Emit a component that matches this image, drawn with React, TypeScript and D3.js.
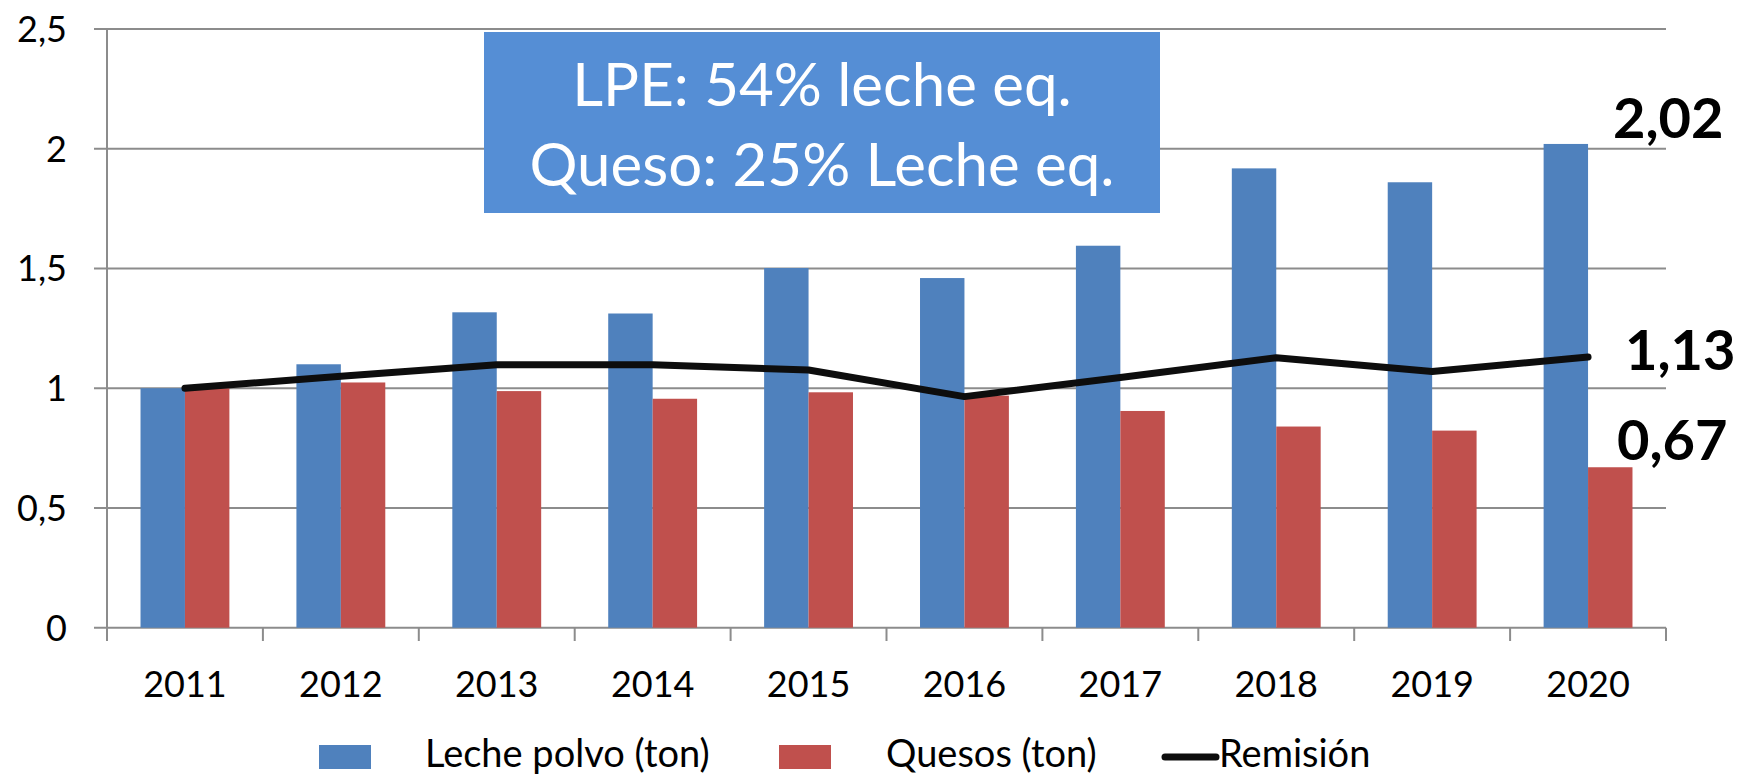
import React from "react";
import * as d3 from "d3";

const years = ["2011", "2012", "2013", "2014", "2015", "2016", "2017", "2018", "2019", "2020"];
const lechePolvo = [1.0, 1.1, 1.317, 1.312, 1.502, 1.46, 1.595, 1.918, 1.86, 2.02];
const quesos = [1.0, 1.024, 0.988, 0.956, 0.983, 0.969, 0.905, 0.84, 0.823, 0.67];
const remision = [1.0, 1.05, 1.098, 1.098, 1.076, 0.965, 1.045, 1.127, 1.07, 1.13];
const yTicks = [0, 0.5, 1, 1.5, 2, 2.5];
const seriesNames = ["Leche polvo (ton)", "Quesos (ton)", "Remisión"];
const noteLines = ["LPE: 54% leche eq.", "Queso: 25% Leche eq."];
const endLabels = ["2,02", "1,13", "0,67"];

const BLUE = "#4f81bd";
const RED = "#c0504d";
const GRID = "#8c8c8c";
const FONT = "Lato, 'Open Sans', sans-serif";

const App = () => {
  // -- STATE --
  const svgRef = React.useRef(null);
  const width = 1738;
  const height = 777;

  // -- LIFECYCLE --
  React.useEffect(() => {
    document.body.style.margin = "0";
    const svg = d3.select(svgRef.current);
    svg.selectAll("*").remove();
    svg.attr("width", width).attr("height", height).style("background", "#fff");

    // Scales
    const xCat = d3.scaleBand().domain(years).range([107, 1666]).padding(0);
    const xGroup = d3
      .scaleBand()
      .domain(years)
      .range([107, 1666])
      .paddingInner(0.43)
      .paddingOuter(0.215);
    const xSub = d3
      .scaleBand()
      .domain(["leche", "queso"])
      .range([0, xGroup.bandwidth()]);
    const y = d3.scaleLinear().domain([0, 2.5]).range([627.7, 29]);
    const fmt = (v) => String(v).replace(".", ",");

    // gridlines + y tick labels
    svg
      .append("g")
      .selectAll("line")
      .data(yTicks)
      .enter()
      .append("line")
      .attr("x1", 94)
      .attr("x2", 1666)
      .attr("y1", (d) => y(d))
      .attr("y2", (d) => y(d))
      .style("stroke", GRID)
      .style("stroke-width", 2);
    svg
      .append("g")
      .selectAll("text")
      .data(yTicks)
      .enter()
      .append("text")
      .attr("x", 67)
      .attr("y", (d) => y(d) + 13)
      .attr("text-anchor", "end")
      .style("font-family", FONT)
      .style("font-size", "36px")
      .style("fill", "#000")
      .text(fmt);

    // y axis line
    svg
      .append("line")
      .attr("x1", 107)
      .attr("x2", 107)
      .attr("y1", y(2.5))
      .attr("y2", 641)
      .style("stroke", GRID)
      .style("stroke-width", 2);

    // x ticks at band edges
    const edges = years.map((d) => xCat(d)).concat([1666]);
    svg
      .append("g")
      .selectAll("line")
      .data(edges)
      .enter()
      .append("line")
      .attr("x1", (d) => d)
      .attr("x2", (d) => d)
      .attr("y1", y(0))
      .attr("y2", 641)
      .style("stroke", GRID)
      .style("stroke-width", 2);

    // bars
    const barData = years.flatMap((yr, i) => [
      { year: yr, key: "leche", v: lechePolvo[i], color: BLUE },
      { year: yr, key: "queso", v: quesos[i], color: RED },
    ]);
    svg
      .append("g")
      .selectAll("rect")
      .data(barData)
      .enter()
      .append("rect")
      .attr("x", (d) => xGroup(d.year) + xSub(d.key))
      .attr("y", (d) => y(d.v))
      .attr("width", xSub.bandwidth())
      .attr("height", (d) => y(0) - y(d.v))
      .style("fill", (d) => d.color);

    // x labels
    svg
      .append("g")
      .selectAll("text")
      .data(years)
      .enter()
      .append("text")
      .attr("x", (d) => xCat(d) + xCat.bandwidth() / 2)
      .attr("y", 697)
      .attr("text-anchor", "middle")
      .style("font-family", FONT)
      .style("font-size", "36px")
      .text((d) => d);

    // remision line
    const line = d3
      .line()
      .x((d, i) => xCat(years[i]) + xCat.bandwidth() / 2)
      .y((d) => y(d));
    svg
      .append("path")
      .datum(remision)
      .attr("d", line)
      .style("fill", "none")
      .style("stroke", "#0d0d0d")
      .style("stroke-width", 7)
      .style("stroke-linecap", "round")
      .style("stroke-linejoin", "round");

    // note box
    svg
      .append("rect")
      .attr("x", 484)
      .attr("y", 32)
      .attr("width", 676)
      .attr("height", 181)
      .style("fill", "#558ed5");
    svg
      .append("g")
      .selectAll("text")
      .data(noteLines)
      .enter()
      .append("text")
      .attr("x", 822)
      .attr("y", (d, i) => 106 + i * 80)
      .attr("text-anchor", "middle")
      .style("font-family", FONT)
      .style("font-size", "60px")
      .style("fill", "#fff")
      .text((d) => d);

    // end value labels
    const endY = [138, 370, 460];
    const endX = [1613, 1625, 1617];
    svg
      .append("g")
      .selectAll("text")
      .data(endLabels)
      .enter()
      .append("text")
      .attr("x", (d, i) => endX[i])
      .attr("y", (d, i) => endY[i])
      .style("font-family", FONT)
      .style("font-weight", "bold")
      .style("font-size", "56px")
      .style("fill", "#000")
      .text((d) => d);

    // legend
    const lg = svg.append("g");
    lg.append("rect").attr("x", 319).attr("y", 745).attr("width", 52).attr("height", 24).style("fill", BLUE);
    lg.append("rect").attr("x", 779).attr("y", 745).attr("width", 52).attr("height", 24).style("fill", RED);
    lg.append("line")
      .attr("x1", 1165)
      .attr("x2", 1216)
      .attr("y1", 757)
      .attr("y2", 757)
      .style("stroke", "#0d0d0d")
      .style("stroke-width", 7)
      .style("stroke-linecap", "round");
    const legendX = [425, 886, 1219];
    lg.selectAll("text")
      .data(seriesNames)
      .enter()
      .append("text")
      .attr("x", (d, i) => legendX[i])
      .attr("y", 767)
      .style("font-family", FONT)
      .style("font-size", "38px")
      .text((d) => d);
  }, []);

  // -- RENDER --
  return <svg ref={svgRef} style={{ display: "block" }} />;
};

export default App;
